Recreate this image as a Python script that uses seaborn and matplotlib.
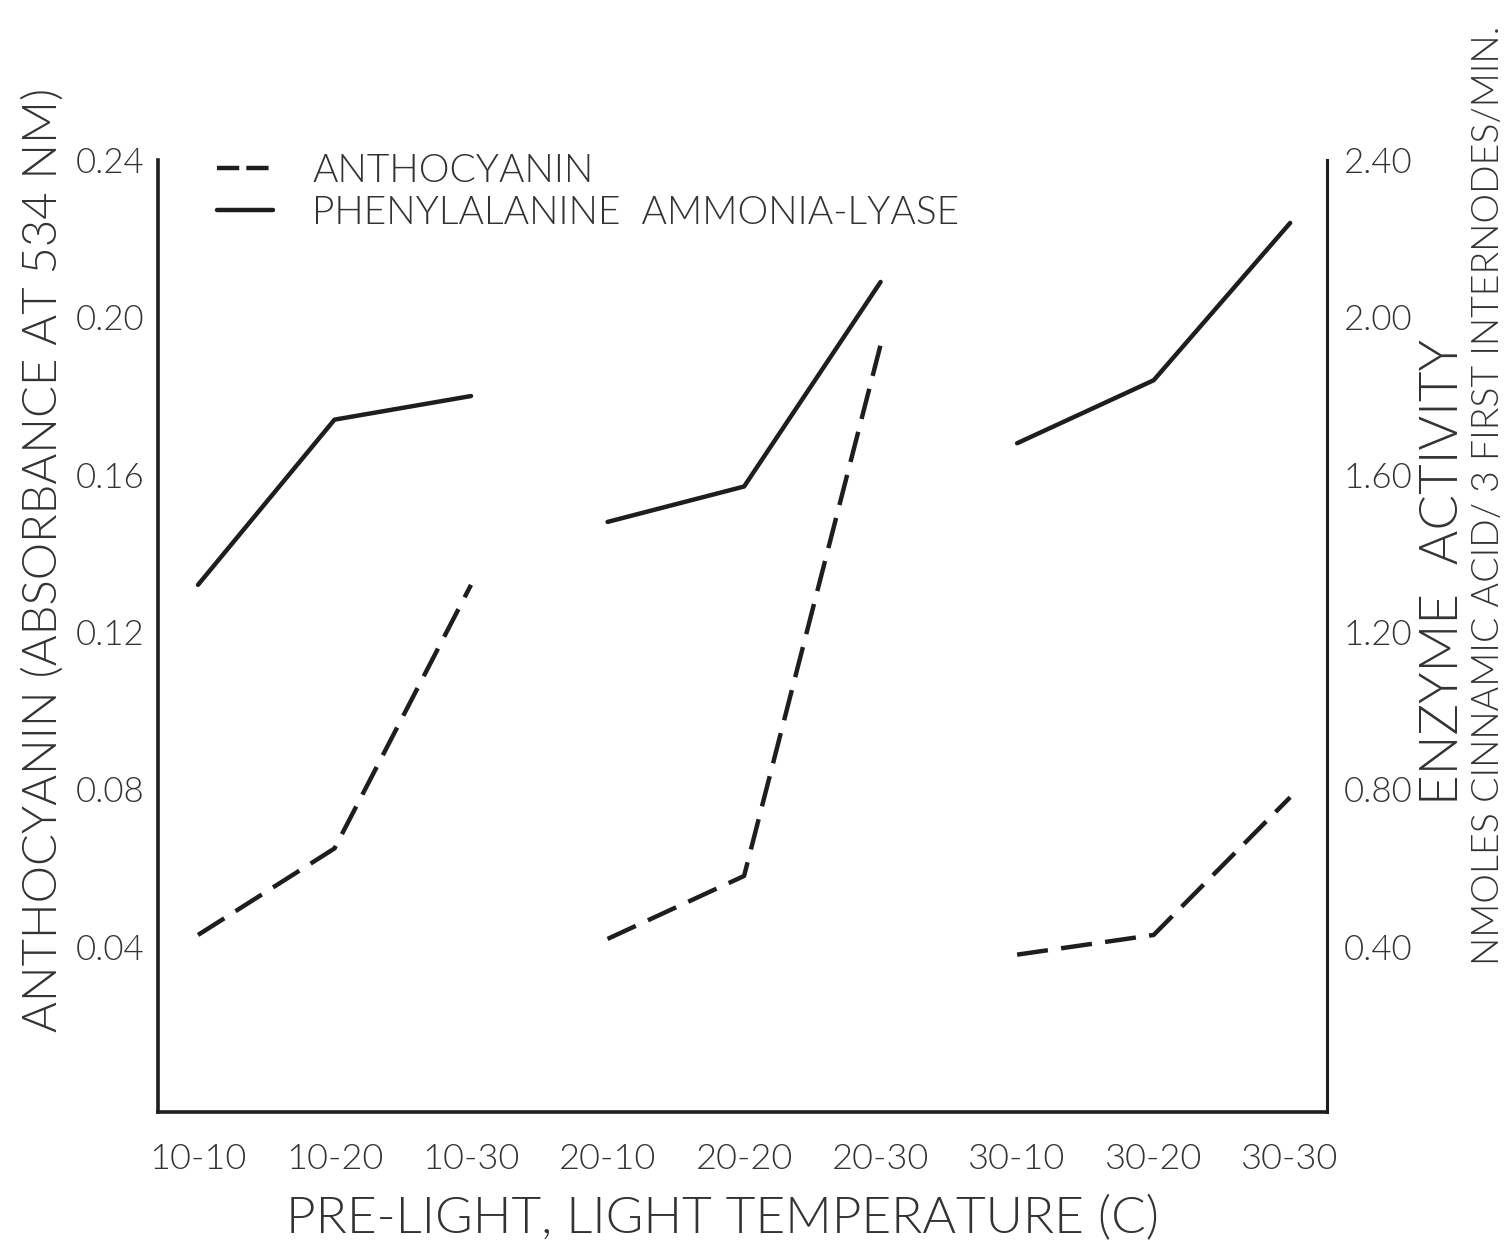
import numpy as np
import pandas as pd
import matplotlib
matplotlib.use("Agg")
import matplotlib.pyplot as plt
import seaborn as sns
from matplotlib.lines import Line2D

# ---------------- data ----------------
categories = ["10-10", "10-20", "10-30", "20-10", "20-20", "20-30", "30-10", "30-20", "30-30"]
pre_light = ["10", "10", "10", "20", "20", "20", "30", "30", "30"]
anthocyanin = [0.043, 0.065, 0.132, 0.042, 0.058, 0.193, 0.038, 0.043, 0.078]
pal_activity = [1.32, 1.74, 1.80, 1.48, 1.57, 2.09, 1.68, 1.84, 2.24]

left_ticks = [0.04, 0.08, 0.12, 0.16, 0.20, 0.24]
left_ticklabels = ["0.04", "0.08", "0.12", "0.16", "0.20", "0.24"]
right_ticks = [0.40, 0.80, 1.20, 1.60, 2.00, 2.40]
right_ticklabels = ["0.40", "0.80", "1.20", "1.60", "2.00", "2.40"]

df = pd.DataFrame({
    "category": categories,
    "pos": np.arange(len(categories)),
    "group": pre_light,
    "anthocyanin": anthocyanin,
    "pal": pal_activity,
})

# ---------------- style ----------------
sns.set_theme(style="white")
plt.rcParams["font.family"] = ["Lato", "DejaVu Sans"]
plt.rcParams["font.weight"] = 300
plt.rcParams["axes.labelweight"] = 300
ink = "#1e1e1e"
txt = "#333333"

W, H = 1511, 1253
fig = plt.figure(figsize=(W / 100, H / 100), dpi=100)
fig.patch.set_facecolor("white")
x0, x1, y0, y1 = 158, 1327, 160, 1112
ax = fig.add_axes([x0 / W, 1 - y1 / H, (x1 - x0) / W, (y1 - y0) / H])
ax2 = ax.twinx()

# dashed anthocyanin on the left axis, one segment per pre-light group
sns.lineplot(data=df, x="pos", y="anthocyanin", units="group", estimator=None,
             ax=ax, color=ink, linewidth=3.2, legend=False)
for ln in ax.get_lines():
    ln.set_dashes((7, 3))
# solid PAL on the right axis
sns.lineplot(data=df, x="pos", y="pal", units="group", estimator=None,
             ax=ax2, color=ink, linewidth=3.2, legend=False)

ax.set_xlim(-0.293, 8.27)
ax.set_ylim(-0.002, 0.24)
ax2.set_ylim(-0.02, 2.40)

ax.set_xticks(df["pos"])
ax.set_xticklabels(categories, fontsize=26, fontweight=300)
ax.set_yticks(left_ticks)
ax.set_yticklabels(left_ticklabels, fontsize=25, fontweight=300)
ax2.set_yticks(right_ticks)
ax2.set_yticklabels(right_ticklabels, fontsize=25, fontweight=300)

for a in (ax, ax2):
    a.tick_params(length=0, colors=txt)
    a.grid(False)
    for s in a.spines.values():
        s.set_visible(False)
ax.tick_params(axis="x", pad=22)
ax.tick_params(axis="y", pad=10)
ax2.tick_params(axis="y", pad=12)

ax.spines["left"].set_visible(True)
ax.spines["bottom"].set_visible(True)
ax2.spines["right"].set_visible(True)
for s in (ax.spines["left"], ax.spines["bottom"]):
    s.set_linewidth(2.6)
    s.set_color(ink)
ax2.spines["right"].set_linewidth(2.2)
ax2.spines["right"].set_color(ink)

# axis labels
ax.set_xlabel("PRE-LIGHT, LIGHT TEMPERATURE (C)", fontsize=37, color=txt, fontweight=300)
ax.xaxis.set_label_coords(0.483, -0.113)
ax.xaxis.label.set_va("center")
ax.set_ylabel("ANTHOCYANIN (ABSORBANCE AT 534 NM)", fontsize=34, color=txt, fontweight=300)
ax.yaxis.set_label_coords(-0.098, 0.58)
ax.yaxis.label.set_va("center")

ax2.set_ylabel("")
fig.text(1443 / W, 1 - 572 / H, "ENZYME  ACTIVITY", rotation=90, fontsize=38,
         color=txt, ha="center", va="center", fontweight=300)
fig.text(1489 / W, 1 - 495 / H, "NMOLES CINNAMIC ACID/ 3 FIRST INTERNODES/MIN.",
         rotation=90, fontsize=27, color=txt, ha="center", va="center", fontweight=300)

# legend
handles = [
    Line2D([], [], color=ink, linewidth=3.2, dashes=(5, 1.6)),
    Line2D([], [], color=ink, linewidth=3.2),
]
leg = fig.legend(handles, ["ANTHOCYANIN", "PHENYLALANINE  AMMONIA-LYASE"],
                 loc="upper left", bbox_to_anchor=(217 / W, 1 - 153 / H),
                 frameon=False, handlelength=1.45, handletextpad=1.0,
                 labelspacing=0.15, borderpad=0, borderaxespad=0,
                 prop={"weight": 300, "size": 28})
for t in leg.get_texts():
    t.set_color(txt)

fig.savefig("out.png", dpi=100, facecolor="white")
